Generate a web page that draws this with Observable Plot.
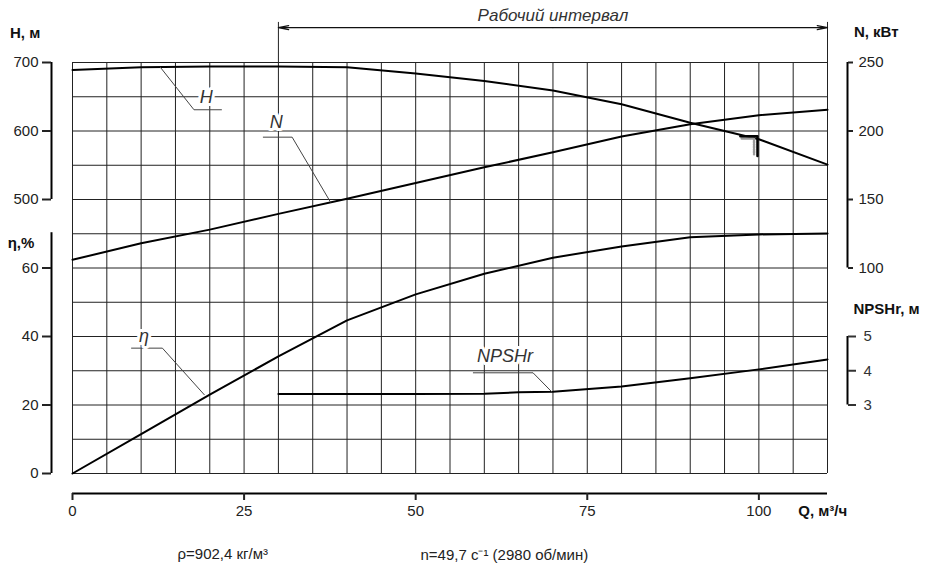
<!DOCTYPE html>
<html>
<head>
<meta charset="utf-8">
<script src="https://cdn.jsdelivr.net/npm/d3@7"></script>
<script src="https://cdn.jsdelivr.net/npm/@observablehq/plot@0.6"></script>
<style>
  html, body { margin: 0; padding: 0; background: #fff; }
</style>
</head>
<body>
<div id="chart"></div>
<script>
// ---------- data ----------
const Q      = [0, 10, 20, 30, 40, 50, 60, 70, 80, 90, 100, 110];           // м³/ч
const H      = [689, 693, 694, 694, 693, 684, 673, 659, 639, 612, 588, 551]; // м
const N      = [106, 118, 128, 139.5, 150.5, 162, 173.5, 184.5, 196, 205, 211.5, 215.5]; // кВт
const ETA    = [0, 11.5, 23, 34.2, 44.7, 52.3, 58.3, 63, 66.3, 69, 69.8, 70.1];          // %
const Q_NPSH = [30, 40, 50, 60, 65, 70, 80, 90, 100, 110];
const NPSH   = [3.32, 3.32, 3.32, 3.33, 3.37, 3.39, 3.54, 3.78, 4.04, 4.33];             // м

const qTicks    = [0, 25, 50, 75, 100];
const hTicks    = [500, 600, 700];
const etaTicks  = [0, 20, 40, 60];
const nTicks    = [100, 150, 200, 250];
const npshTicks = [3, 4, 5];
const workRange = [30, 110];
const markQ     = [97.3, 99.8, 99.8];
const markH     = [592.5, 592.5, 563.5];

// ---------- common vertical scale (η units 0..120) ----------
const uH    = h => (h - 100) / 5;
const uN    = n => 0.4 * n + 20;
const uEta  = e => e;
const uNPSH = p => 10 * p - 10;

const rows = (xs, ys, f, name) => xs.map((q, i) => ({Q: q, u: f(ys[i]), name}));
const curves = [
  ...rows(Q, H, uH, "H"),
  ...rows(Q, N, uN, "N"),
  ...rows(Q, ETA, uEta, "eta"),
  ...rows(Q_NPSH, NPSH, uNPSH, "npsh")
];

const gridQ = d3.range(0, 110 + 1e-9, 5);
const gridU = d3.range(0, 120 + 1e-9, 10);

// leader lines (label callouts)
const leaders = [
  {name: "H",    pts: [[12.8, uH(693)], [17.7, 106.2], [21.7, 106.2]]},
  {name: "N",    pts: [[37.6, uN(148)], [32.0, 98.2], [27.8, 98.2]]},
  {name: "eta",  pts: [[19.2, 23.0], [13.1, 36.6], [8.6, 36.6]]},
  {name: "npsh", pts: [[69.8, uNPSH(3.39)], [67.1, 29.4], [58.4, 29.4]]}
].flatMap(l => l.pts.map(([q, u]) => ({Q: q, u, name: l.name})));

const curveLabels = [
  {Q: 19.5, u: 110, t: "H"},
  {Q: 29.7, u: 102.6, t: "N"},
  {Q: 10.4, u: 40, t: "η"},
  {Q: 63.0, u: 34.2, t: "NPSHr"}
];

const mark = markQ.map((q, i) => ({Q: q, u: uH(markH[i])}));
const markShade = [{Q: 97.5, u: uH(589)}, {Q: 99.3, u: uH(589)}, {Q: 99.3, u: uH(566)}];

const axisTitles = [
  {Q: -6.9, u: 128.5, t: "H, м"},
  {Q: -7.5, u: 67.2, t: "η,%"},
  {Q: 117.1, u: 128.9, t: "N, кВт"},
  {Q: 118.6, u: 47.9, t: "NPSHr, м"},
  {Q: 109.3, u: -11.0, t: "Q, м³/ч"}
];
const notes = [
  {Q: 15.3, u: -23.6, t: "ρ=902,4 кг/м³"},
  {Q: 50.7, u: -23.8, t: "n=49,7 с⁻¹ (2980 об/мин)"}
];

const uArrow = 130.2;
const uExt = 131.7;
const mid = d3.mean(workRange);

const chart = Plot.plot({
  width: 927,
  height: 575,
  marginLeft: 72,
  marginRight: 100,
  marginTop: 62,
  marginBottom: 102,
  style: {fontFamily: "'Liberation Sans', Arial, sans-serif", fontSize: "15px", background: "#fff", color: "#222", overflow: "visible"},
  x: {domain: [0, 110], axis: null},
  y: {domain: [0, 120], axis: null},
  marks: [
    // grid
    Plot.ruleX(gridQ, {stroke: "#222", strokeWidth: 1}),
    Plot.ruleY(gridU, {stroke: "#222", strokeWidth: 1}),

    // working interval
    Plot.ruleX(workRange, {y1: 120, y2: uExt, stroke: "#222", strokeWidth: 1}),
    Plot.arrow(workRange, {x1: () => mid, x2: d => d, y1: uArrow, y2: uArrow, bend: 0,
      headLength: 12, headAngle: 22, stroke: "#111", strokeWidth: 1.3}),
    Plot.text(["Рабочий интервал"], {x: mid, y: 133.7, text: d => d,
      fontFamily: "'Liberation Sans Narrow', 'Liberation Sans', sans-serif", fontStyle: "italic",
      fontSize: 17, fill: "#333"}),

    // curves
    Plot.line(curves, {x: "Q", y: "u", z: "name", stroke: "#000", strokeWidth: 2, strokeLinejoin: "round"}),

    // marker near Q=100
    Plot.line(markShade, {x: "Q", y: "u", stroke: "#999", strokeWidth: 2.5, strokeDasharray: "1.5,1"}),
    Plot.line(mark, {x: "Q", y: "u", stroke: "#000", strokeWidth: 2.5}),

    // leaders and curve labels
    Plot.line(leaders, {x: "Q", y: "u", z: "name", stroke: "#444", strokeWidth: 1}),
    Plot.text(curveLabels, {x: "Q", y: "u", text: "t",
      fontFamily: "'Liberation Sans Narrow', 'Liberation Sans', sans-serif", fontStyle: "italic",
      fontSize: 18, fill: "#333", stroke: "#fff", strokeWidth: 6}),

    // left axis: H
    Plot.ruleX([0], {y1: uH(d3.min(hTicks)), y2: uH(d3.max(hTicks)), dx: -21, stroke: "#000", strokeWidth: 2}),
    Plot.axisY(hTicks.map(uH), {anchor: "left", label: null, dx: -21, tickSize: 9, tickPadding: 4, strokeWidth: 2,
      tickFormat: u => Math.round(100 + 5 * u), fontSize: 15, color: "#222"}),
    // left axis: η
    Plot.ruleX([0], {y1: uEta(d3.min(etaTicks)), y2: 70.3, dx: -21, stroke: "#000", strokeWidth: 2}),
    Plot.axisY(etaTicks.map(uEta), {anchor: "left", label: null, dx: -21, tickSize: 9, tickPadding: 4, strokeWidth: 2,
      tickFormat: u => Math.round(u), fontSize: 15, color: "#222"}),

    // right axis: N
    Plot.ruleX([110], {y1: uN(d3.min(nTicks)), y2: uN(d3.max(nTicks)), dx: 20, stroke: "#000", strokeWidth: 2}),
    Plot.axisY(nTicks.map(uN), {anchor: "right", label: null, dx: 20, tickSize: 5, tickPadding: 6, strokeWidth: 2,
      tickFormat: u => Math.round((u - 20) * 2.5), fontSize: 15, color: "#222"}),
    // right axis: NPSHr
    Plot.ruleX([110], {y1: uNPSH(d3.min(npshTicks)), y2: uNPSH(d3.max(npshTicks)), dx: 20, stroke: "#000", strokeWidth: 2}),
    Plot.axisY(npshTicks.map(uNPSH), {anchor: "right", label: null, dx: 20, tickSize: 8, tickPadding: 8, strokeWidth: 2,
      tickFormat: u => Math.round((u + 10) / 10), fontSize: 15, color: "#333"}),

    // bottom axis: Q
    Plot.ruleY([0], {x1: 0, x2: 110, dy: 20, stroke: "#000", strokeWidth: 2}),
    Plot.axisX(qTicks, {anchor: "bottom", label: null, dy: 20, tickSize: 7, tickPadding: 5, strokeWidth: 2,
      tickFormat: d => d, fontSize: 15, color: "#222"}),

    // axis titles
    Plot.text(axisTitles, {x: "Q", y: "u", text: "t", textAnchor: "middle", fontWeight: "bold", fontSize: 15, fill: "#111"}),
    // notes
    Plot.text(notes, {x: "Q", y: "u", text: "t", textAnchor: "start", fontSize: 15, fill: "#222"})
  ]
});
document.getElementById("chart").appendChild(chart);
</script>
</body>
</html>
